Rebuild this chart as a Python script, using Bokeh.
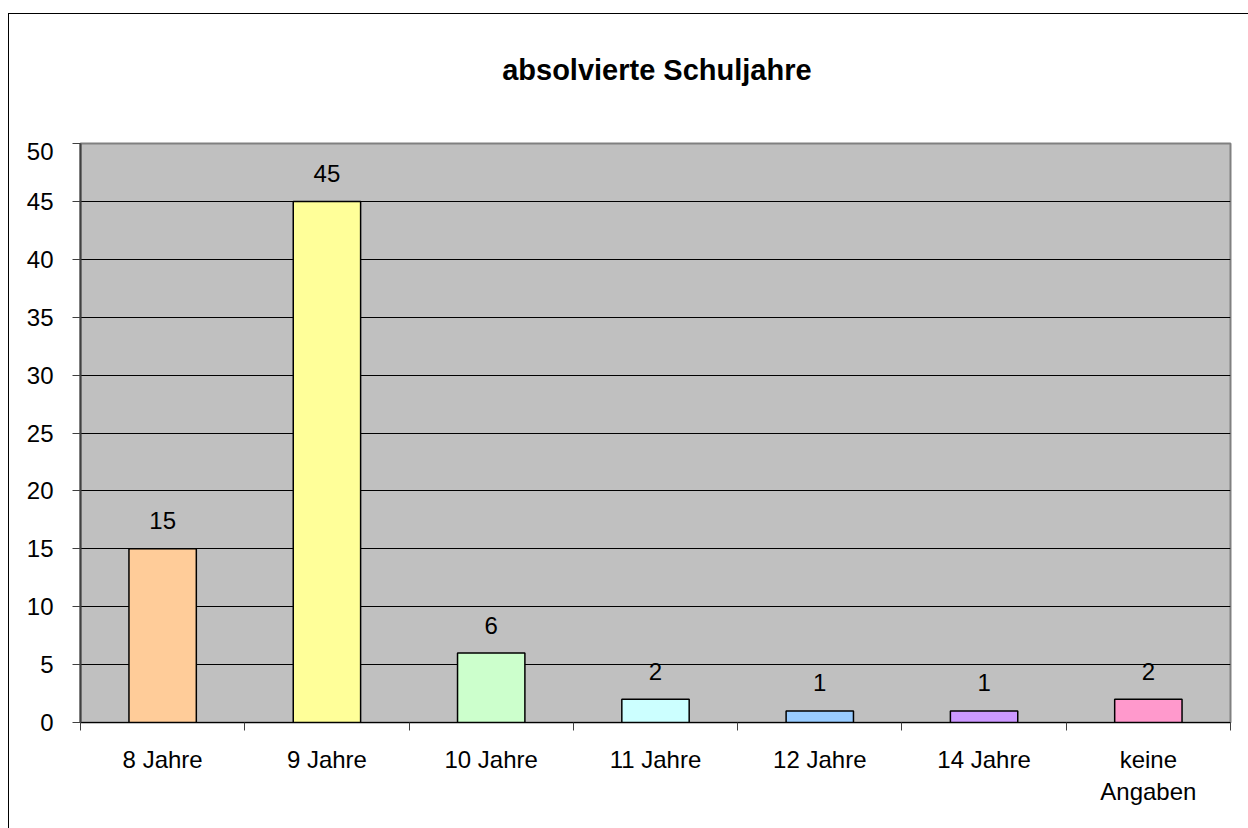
from bokeh.plotting import figure
from bokeh.models import (ColumnDataSource, Range1d, FixedTicker, LinearAxis, LabelSet, Label)
from bokeh.layouts import column
from bokeh.core.properties import value
from bokeh.embed import file_html
from bokeh.resources import INLINE

categories = ["8 Jahre", "9 Jahre", "10 Jahre", "11 Jahre", "12 Jahre", "14 Jahre", "keine\nAngaben"]
values = [15, 45, 6, 2, 1, 1, 2]
y_ticks = [0, 5, 10, 15, 20, 25, 30, 35, 40, 45, 50]
title_text = "absolvierte Schuljahre"

bar_colors = ["#FFCC99", "#FFFF99", "#CCFFCC", "#CCFFFF", "#99CCFF", "#CC99FF", "#FF99CC"]
FONT = "Liberation Sans"

W = 1239
TITLE_H = 128

# ---- title strip (pixel-unit ranges) ----
t = figure(width=W, height=TITLE_H, output_backend="svg", toolbar_location=None,
           x_range=Range1d(0, W), y_range=Range1d(0, TITLE_H),
           x_axis_location=None, y_axis_location=None,
           min_border_left=0, min_border_right=0, min_border_top=0, min_border_bottom=0)
t.grid.grid_line_color = None
t.outline_line_color = None
t.background_fill_color = "white"
t.border_fill_color = "white"
t.add_layout(Label(x=621, y=73, text=title_text, text_align="center", text_baseline="alphabetic",
                   text_font=FONT, text_font_size="29px", text_font_style="bold",
                   text_color="black"))

# ---- main chart ----
n = len(categories)
centers = [i + 0.5 for i in range(n)]
source = ColumnDataSource(dict(x=centers, cat=categories, val=values, color=bar_colors,
                               lbl=[str(v) for v in values]))

p = figure(width=W, height=814 - TITLE_H, output_backend="svg", toolbar_location=None,
           x_range=Range1d(0, n), y_range=Range1d(0, 50),
           x_axis_location=None, min_border_left=71, min_border_right=18,
           min_border_top=1, min_border_bottom=106)

p.background_fill_color = "#C0C0C0"
p.border_fill_color = "white"
p.outline_line_color = "#808080"
p.outline_line_width = 2

p.xgrid.grid_line_color = None
p.ygrid.ticker = FixedTicker(ticks=y_ticks)
p.ygrid.grid_line_color = "black"
p.ygrid.grid_line_width = 1

p.vbar(x="x", top="val", width=0.41, fill_color="color", line_color="black",
       line_width=1.5, source=source)

labels = LabelSet(x="x", y="val", text="lbl", source=source, y_offset=28,
                  text_align="center", text_baseline="middle",
                  text_font=value(FONT), text_font_size=value("24px"), text_color="black")
p.add_layout(labels)

# y axis
yax = p.yaxis[0]
yax.ticker = FixedTicker(ticks=y_ticks)
yax.minor_tick_line_color = None
yax.major_tick_in = 0
yax.major_tick_out = 8
yax.major_tick_line_color = "#404040"
yax.axis_line_color = "#404040"
yax.axis_line_width = 2
yax.major_label_standoff = 19
yax.major_label_text_font = FONT
yax.major_label_text_font_size = "24px"
yax.major_label_text_color = "black"

# x boundary ticks
edges = list(range(n + 1))
edge_axis = LinearAxis(ticker=FixedTicker(ticks=edges),
                       major_tick_in=0, major_tick_out=8, major_tick_line_color="#404040",
                       minor_tick_line_color=None, axis_line_color="black", axis_line_width=1,
                       major_label_text_font_size="0px", major_label_standoff=0)
edge_axis.major_label_overrides = {e: "" for e in edges}
p.add_layout(edge_axis, "below")

# category labels
cat_axis = LinearAxis(ticker=FixedTicker(ticks=centers), major_tick_line_color=None,
                      minor_tick_line_color=None, axis_line_color=None, major_label_standoff=9,
                      major_label_text_font=FONT, major_label_text_font_size="24px",
                      major_label_text_color="black", major_label_orientation="horizontal")
cat_axis.major_label_overrides = {c: lab for c, lab in zip(centers, categories)}
p.add_layout(cat_axis, "below")

layout = column(t, p, spacing=0)
layout.styles = {"margin-left": "8px", "margin-top": "13px",
                 "border-top": "1px solid black", "border-left": "1px solid black"}

open("out.html", "w").write(file_html(layout, INLINE))
